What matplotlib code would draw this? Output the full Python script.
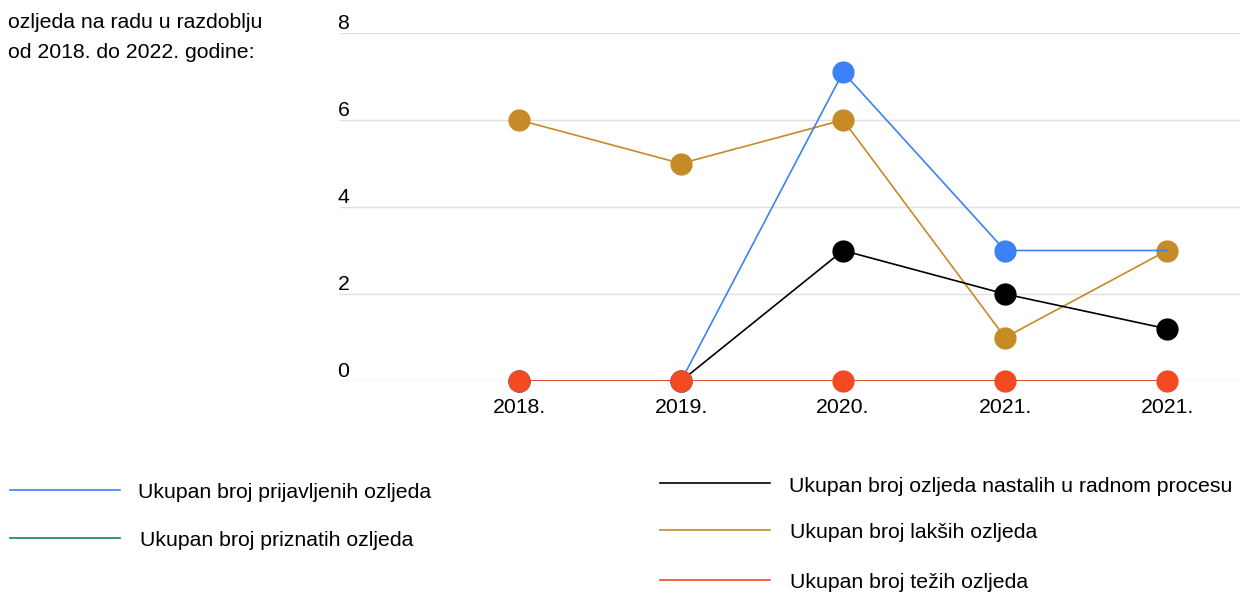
import matplotlib.pyplot as plt
from matplotlib.lines import Line2D

plt.rcParams['font.family'] = ['Liberation Sans', 'DejaVu Sans']

years = ["2018.", "2019.", "2020.", "2021.", "2021."]
prijavljene = [0, 0, 7.1, 3, 3]
priznate = [0, 0, 0, 0, 0]
radni_proces = [0, 0, 3, 2, 1.2]
lakse = [6, 5, 6, 1, 3]
teze = [0, 0, 0, 0, 0]

labels = [
    "Ukupan broj prijavljenih ozljeda",
    "Ukupan broj priznatih ozljeda",
    "Ukupan broj ozljeda nastalih u radnom procesu",
    "Ukupan broj lakših ozljeda",
    "Ukupan broj težih ozljeda",
]
colors = ["#3b82f6", "#0b8a5a", "#000000", "#c68a27", "#f44a22"]

fig = plt.figure(figsize=(12.4, 5.93), dpi=100)
ax = fig.add_axes([340 / 1240, 212 / 593, 900 / 1240, 348 / 593])

x = list(range(len(years)))
ms = 15
fs = 15.3

# lines first, each series' points right above its own line
ax.plot(x, lakse, color=colors[3], lw=1.2, zorder=2)
ax.plot(x, lakse, "o", color=colors[3], ms=ms, zorder=3, clip_on=False)
ax.plot(x, radni_proces, color=colors[2], lw=1.2, zorder=4)
ax.plot(x, radni_proces, "o", color=colors[2], ms=ms, zorder=5, clip_on=False)
ax.plot(x, prijavljene, color=colors[0], lw=1.2, zorder=6)
ax.plot(x, prijavljene, "o", color=colors[0], ms=ms, zorder=7,
        markevery=[0, 1, 2, 3], clip_on=False)
ax.plot(x, priznate, color=colors[1], lw=1.2, zorder=8)
ax.plot(x, teze, color=colors[4], lw=1.3, zorder=9)
ax.plot(x, teze, "o", color=colors[4], ms=ms, zorder=10, clip_on=False)

ax.set_xlim(-1.105, 4.45)
ax.set_ylim(0, 8)
ax.set_xticks(x)
ax.set_xticklabels(years, fontsize=fs)
ax.tick_params(axis="x", length=0, pad=12)
ax.set_yticks([0, 2, 4, 6, 8])
ax.set_yticklabels([])
ax.tick_params(axis="y", length=0)
ax.grid(axis="y", color="#e0e0e0", lw=1)
ax.set_axisbelow(True)
for s in ax.spines.values():
    s.set_visible(False)

# y labels sit just above their gridlines
for v in [0, 2, 4, 6, 8]:
    ax.text(-1.12, v, str(v), fontsize=fs, ha="left", va="bottom",
            transform=ax.transData)

fig.text(8 / 1240, 1 - 23 / 593, "ozljeda na radu u razdoblju",
         fontsize=fs, va="center", ha="left")
fig.text(8 / 1240, 1 - 53 / 593, "od 2018. do 2022. godine:",
         fontsize=fs, va="center", ha="left")

# legend, two columns
legend_rows = [
    (10, 120, 138, 490, 0),
    (10, 120, 140, 538, 1),
    (660, 770, 789, 483, 2),
    (660, 770, 790, 530, 3),
    (660, 770, 790, 580, 4),
]
for x0, x1, tx, y, i in legend_rows:
    fig.add_artist(Line2D([x0 / 1240, x1 / 1240], [1 - y / 593, 1 - y / 593],
                          color=colors[i], lw=1.2, transform=fig.transFigure))
    fig.text(tx / 1240, 1 - (y + 3) / 593, labels[i], fontsize=fs,
             va="center", ha="left")

fig.savefig("out.png", dpi=100)
